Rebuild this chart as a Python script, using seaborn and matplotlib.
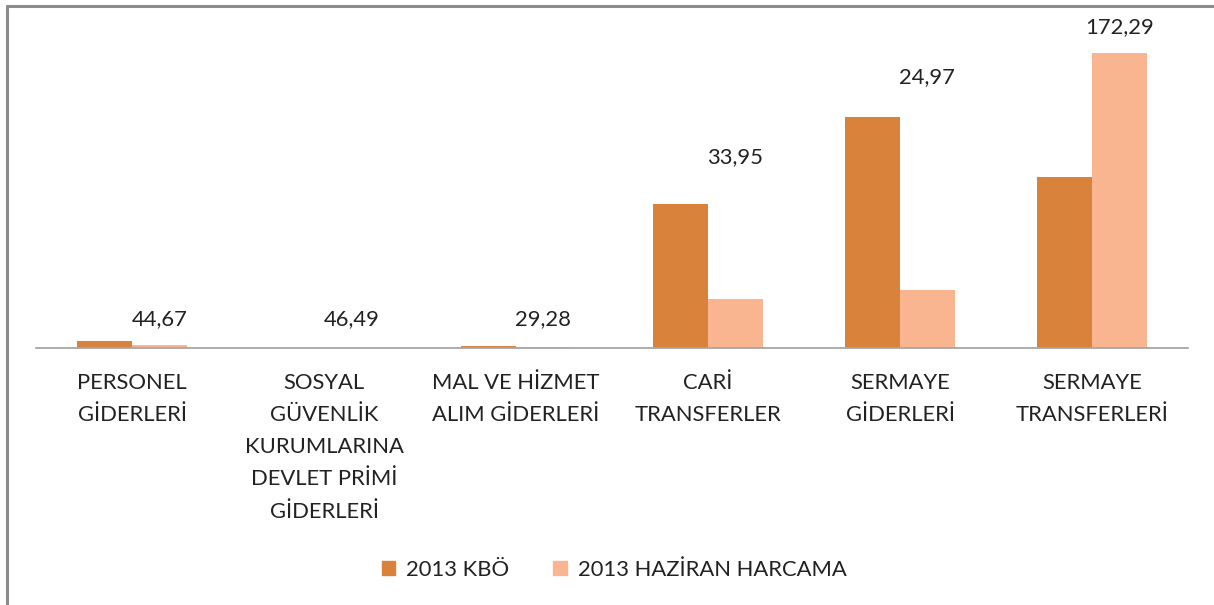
import matplotlib
matplotlib.use("Agg")
import matplotlib.pyplot as plt
import numpy as np
import pandas as pd
import seaborn as sns
from matplotlib.lines import Line2D

categories = [
    "PERSONEL\nGİDERLERİ",
    "SOSYAL\nGÜVENLİK\nKURUMLARINA\nDEVLET PRİMİ\nGİDERLERİ",
    "MAL VE HİZMET\nALIM GİDERLERİ",
    "CARİ\nTRANSFERLER",
    "SERMAYE\nGİDERLERİ",
    "SERMAYE\nTRANSFERLERİ",
]
series_names = ["2013 KBÖ", "2013 HAZİRAN HARCAMA"]
kbo_values = [7.0, 0.3, 2.0, 144.0, 231.0, 171.0]
haziran_values = [3.1, 0.14, 0.6, 49.0, 57.7, 294.6]
ratio_labels = ["44,67", "46,49", "29,28", "33,95", "24,97", "172,29"]

# extra lift (points) of each ratio label above the taller bar of its pair
label_lift = [8.5, 13.5, 12, 26.5, 21.5, 11.5]

colors = ["#D8823C", "#F9B590"]
text_color = "#222222"

df = pd.DataFrame({
    "category": categories * 2,
    "series": [series_names[0]] * len(categories) + [series_names[1]] * len(categories),
    "value": kbo_values + haziran_values,
})

sns.set_style("white")
plt.rcParams["font.family"] = ["Lato", "DejaVu Sans"]

fig = plt.figure(figsize=(12.14, 6.05), dpi=100)
ax = fig.add_axes([0.0297, 0.4248, 0.9489, 0.5422])

group_width = 0.57
sns.barplot(
    data=df, x="category", y="value", hue="series", order=categories,
    hue_order=series_names, palette=colors, width=group_width,
    saturation=1, linewidth=0, ax=ax, legend=False,
)

ax.set_xlim(-0.5, len(categories) - 0.5)
ax.set_ylim(0, 328)
ax.set_xlabel("")
ax.set_ylabel("")
ax.set_yticks([])
for side in ["top", "right", "left"]:
    ax.spines[side].set_visible(False)
ax.spines["bottom"].set_color("#A6A6A6")
ax.spines["bottom"].set_linewidth(1.3)

ax.set_xticks(range(len(categories)))
ax.set_xticklabels(categories, fontsize=15.8, color=text_color, linespacing=1.76, va="top")
ax.tick_params(axis="x", which="major", length=0, pad=18)
ax.set_xticks(np.arange(-0.5, len(categories), 1.0), minor=True)
ax.tick_params(axis="x", which="minor", length=10, width=1.3, color="#A6A6A6", direction="out")

for i, label in enumerate(ratio_labels):
    top = max(kbo_values[i], haziran_values[i])
    ax.annotate(
        label, xy=(i + group_width / 4, top), xytext=(0, label_lift[i]),
        textcoords="offset points", ha="center", va="bottom",
        fontsize=15.8, color=text_color,
    )

handles = [plt.Rectangle((0, 0), 1, 1, color=c) for c in colors]
fig.legend(
    handles, series_names, loc="center", bbox_to_anchor=(0.506, 1 - 570 / 605),
    ncol=2, frameon=False, fontsize=15.8, handlelength=0.6, handleheight=0.6,
    handletextpad=0.5, columnspacing=2.0, labelcolor=text_color,
)

# chart frame visible on the left and top edges
fig.add_artist(Line2D([7 / 1214, 7 / 1214], [0, 1 - 6 / 605], transform=fig.transFigure,
                      color="#8C8C8C", linewidth=2.2))
fig.add_artist(Line2D([7 / 1214, 1], [1 - 6 / 605, 1 - 6 / 605], transform=fig.transFigure,
                      color="#8C8C8C", linewidth=2.2))

fig.savefig("out.png", dpi=100)
